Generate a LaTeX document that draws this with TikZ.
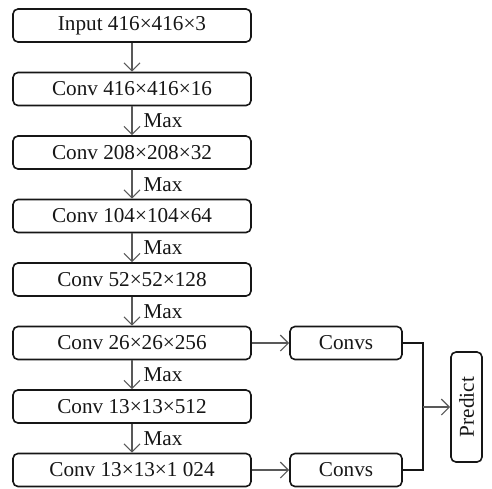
\documentclass[tikz,border=0pt]{standalone}
\usepackage{fontspec}
\setmainfont{Liberation Serif}
\usetikzlibrary{arrows.meta,positioning}
\definecolor{ink}{HTML}{161616}
\definecolor{arrowgray}{HTML}{595959}
\tikzset{
  every node/.style={font=\fontsize{10.6}{12}\selectfont,text=ink},
  layer/.style={draw=ink,line width=0.8pt,rounded corners=2.5pt,minimum width=119pt,minimum height=16.5pt,inner sep=0pt},
  head/.style={layer,minimum width=56pt},
  pred/.style={layer,minimum width=15.5pt,minimum height=55pt},
  flow/.style={-{Straight Barb[length=4pt,width=8pt]},line width=0.6pt,draw=arrowgray},
  mergeline/.style={line width=0.6pt,draw=ink},
  maxlabel/.style={right,inner sep=0pt,xshift=5.5pt}
}

\begin{document}
\begin{tikzpicture}[node distance=14.45pt and 18.7pt]
  \useasboundingbox (0,0) rectangle (246pt,-244pt);
  \node[layer] (input) at (66pt,-12.75pt) {Input 416×416×3};
  \node[layer,below=of input] (conv1) {Conv 416×416×16};
  \node[layer,below=of conv1] (conv2) {Conv 208×208×32};
  \node[layer,below=of conv2] (conv3) {Conv 104×104×64};
  \node[layer,below=of conv3] (conv4) {Conv 52×52×128};
  \node[layer,below=of conv4] (conv5) {Conv 26×26×256};
  \node[layer,below=of conv5] (conv6) {Conv 13×13×512};
  \node[layer,below=of conv6] (conv7) {Conv 13×13×1 024};
  \node[head,right=of conv5] (convsA) {Convs};
  \node[head,right=of conv7] (convsB) {Convs};
  \node[pred] (predict) at (233.25pt,-203.5pt) {\rotatebox{90}{Predict}};
  \coordinate (merge) at (211.5pt,-203.5pt);

  \draw[flow] (input)--(conv1);
  \draw[flow] (conv1)--node[maxlabel]{Max}(conv2);
  \draw[flow] (conv2)--node[maxlabel]{Max}(conv3);
  \draw[flow] (conv3)--node[maxlabel]{Max}(conv4);
  \draw[flow] (conv4)--node[maxlabel]{Max}(conv5);
  \draw[flow] (conv5)--node[maxlabel]{Max}(conv6);
  \draw[flow] (conv6)--node[maxlabel]{Max}(conv7);
  \draw[flow] (conv5)--(convsA);
  \draw[flow] (conv7)--(convsB);
  \draw[mergeline] (convsA.east) -| (merge) |- (convsB.east);
  \draw[flow] (merge)--(predict.west);
\end{tikzpicture}
\end{document}
